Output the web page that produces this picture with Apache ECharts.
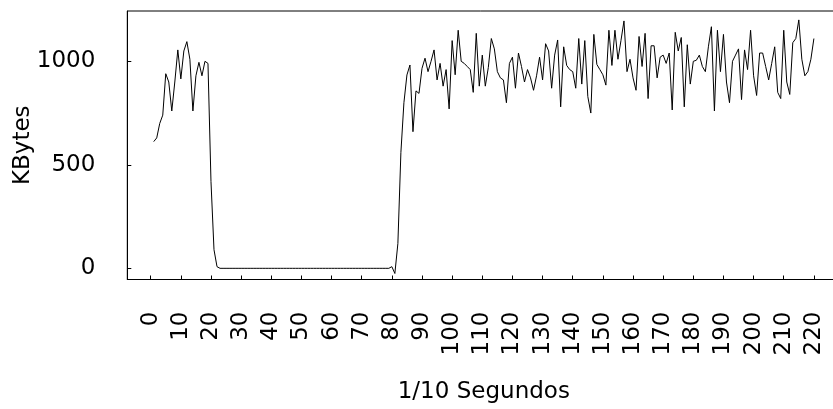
<!DOCTYPE html>
<html>
<head>
<meta charset="utf-8">
<script src="https://cdn.jsdelivr.net/npm/echarts@6/dist/echarts.min.js"></script>
<style>
html,body{margin:0;padding:0;background:#fff;}
#chart{width:833px;height:409px;}
</style>
</head>
<body>
<div id="chart"></div>
<script>
// x positions (1/10 s) of each sample
const seconds = [
  1,2,3,4,5,6,7,8,9,10,11,12,13,14,15,16,17,18,19,20,
  21,22,23,24,25,26,27,28,29,30,31,32,33,34,35,36,37,38,39,40,
  41,42,43,44,45,46,47,48,49,50,51,52,53,54,55,56,57,58,59,60,
  61,62,63,64,65,66,67,68,69,70,71,72,73,74,75,76,77,78,79,80,
  81,82,83,84,85,86,87,88,89,90,91,92,93,94,95,96,97,98,99,100,
  101,102,103,104,105,106,107,108,109,110,111,112,113,114,115,116,117,118,119,120,
  121,122,123,124,125,126,127,128,129,130,131,132,133,134,135,136,137,138,139,140,
  141,142,143,144,145,146,147,148,149,150,151,152,153,154,155,156,157,158,159,160,
  161,162,163,164,165,166,167,168,169,170,171,172,173,174,175,176,177,178,179,180,
  181,182,183,184,185,186,187,188,189,190,191,192,193,194,195,196,197,198,199,200,
  201,202,203,204,205,206,207,208,209,210,211,212,213,214,215,216,217,218,219,220
];
// KBytes per sample
const kbytes = [
  612,630,700,740,940,900,760,900,1055,915,1050,1095,1010,760,930,995,930,1000,990,420,
  90,8,0,0,0,0,0,0,0,0,0,0,0,0,0,0,0,0,0,0,
  0,0,0,0,0,0,0,0,0,0,0,0,0,0,0,0,0,0,0,0,
  0,0,0,0,0,0,0,0,0,0,0,0,0,0,0,0,0,0,0,8,
  -25,120,560,800,934,982,660,857,845,966,1015,950,1000,1055,910,990,880,960,770,1100,
  935,1150,1000,990,975,960,850,1135,880,1030,880,970,1110,1060,950,920,910,800,990,1020,
  870,1040,975,900,960,920,860,930,1020,910,1085,1050,870,1030,1103,780,1070,980,960,950,
  870,1110,890,1100,830,750,1130,985,960,935,885,1150,980,1150,1010,1100,1195,950,1010,920,
  860,1120,975,1135,820,1075,1075,920,1020,1030,990,1040,765,1140,1050,1115,780,1080,890,1000,
  1005,1030,975,950,1070,1167,760,1150,950,1130,900,800,1000,1030,1060,815,1055,960,1150,930,
  835,1040,1040,975,910,990,1070,850,820,1150,900,840,1090,1110,1200,1010,930,950,1010,1110
];
const xTicks = [0,10,20,30,40,50,60,70,80,90,100,110,120,130,140,150,160,170,180,190,200,210,220];
const yTicks = [0,500,1000];
const xTitle = '1/10 Segundos';
const yTitle = 'KBytes';

const FONT = 'DejaVu Sans';
const FS = 23;
const plain = v => String(v);
const chart = echarts.init(document.getElementById('chart'), null, {renderer:'canvas'});
chart.setOption({
  animation: false,
  backgroundColor: '#fff',
  grid: {left: 127.3, top: 11, width: 713, height: 268.5, outerBoundsMode: 'none', containLabel: false,
         show: true, borderColor: '#000', borderWidth: 1, backgroundColor: 'transparent'},
  xAxis: {
    type: 'value', min: -7.76, max: 228.76,
    name: xTitle, nameLocation: 'middle', nameGap: 101, nameMoveOverlap: false,
    nameTextStyle: {fontFamily: FONT, fontSize: FS, color: '#000'},
    axisLine: {show: true, onZero: false, lineStyle: {color: '#000', width: 1}},
    axisTick: {show: true, inside: true, length: 4, customValues: xTicks, lineStyle: {color: '#000'}},
    axisLabel: {rotate: 90, margin: 32, customValues: xTicks, formatter: plain, padding: [5, 0, 0, 0],
                fontFamily: FONT, fontSize: FS, color: '#000'},
    splitLine: {show: false}
  },
  yAxis: {
    type: 'value', min: -54, max: 1243,
    name: yTitle, nameLocation: 'middle', nameGap: 93, nameMoveOverlap: false,
    nameTextStyle: {fontFamily: FONT, fontSize: FS, color: '#000'},
    axisLine: {show: true, onZero: false, lineStyle: {color: '#000', width: 1}},
    axisTick: {show: true, inside: true, length: 4, customValues: yTicks, lineStyle: {color: '#000'}},
    axisLabel: {margin: 32, customValues: yTicks, formatter: plain, padding: [6, 0, 0, 0],
                fontFamily: FONT, fontSize: FS, color: '#000'},
    splitLine: {show: false}
  },
  series: [{
    type: 'line',
    data: kbytes.map((v, i) => [seconds[i], v]),
    showSymbol: false,
    lineStyle: {color: '#000', width: 1},
    clip: true
  }]
});
</script>
</body>
</html>
